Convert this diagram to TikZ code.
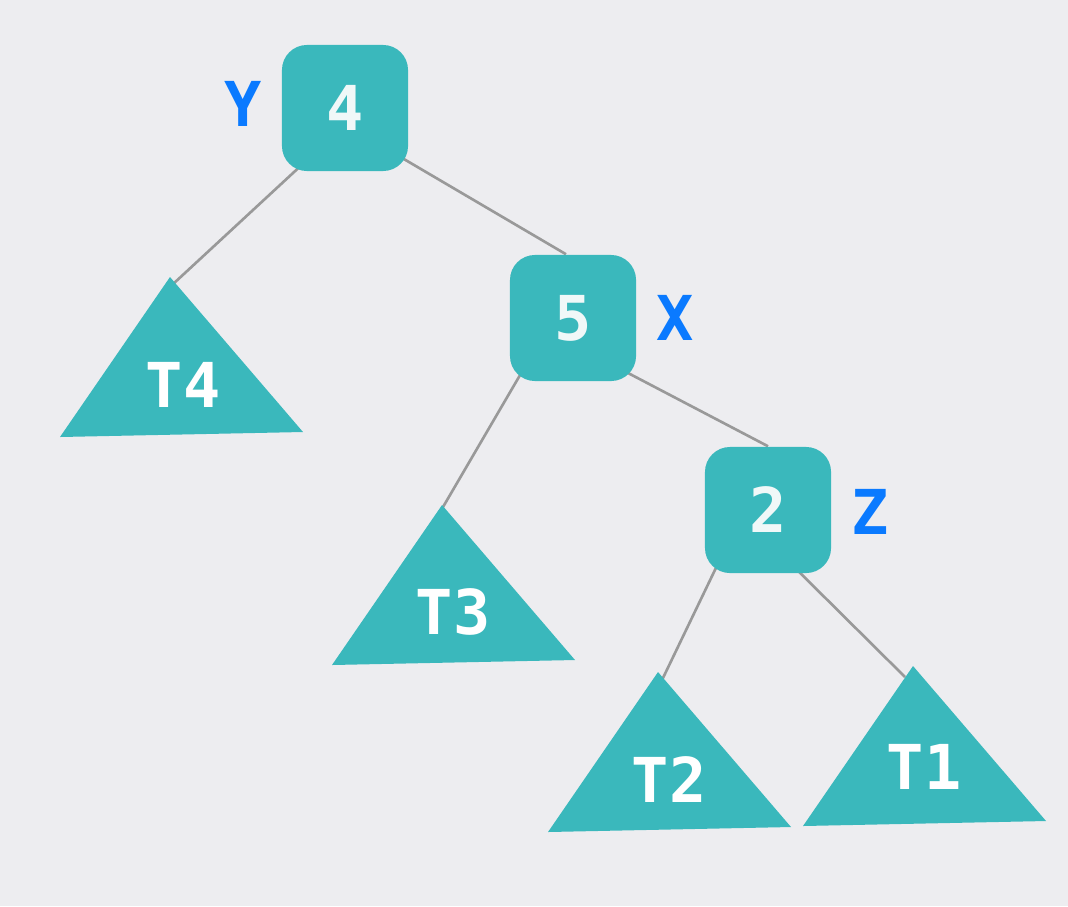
\documentclass[tikz,border=0pt]{standalone}
\usepackage{fontspec}
\newfontfamily\treefont{DejaVu Sans Mono}
\usetikzlibrary{backgrounds}
\definecolor{canvas}{HTML}{EDEDF0}
\definecolor{treeteal}{HTML}{3AB8BC}
\definecolor{keyblue}{HTML}{0A7AFF}
\definecolor{edgegray}{HTML}{999999}
\definecolor{keytext}{HTML}{F0F8F8}
\tikzset{
    keybox/.style={fill=treeteal, rounded corners=0.25cm, minimum size=1.26cm, inner sep=0pt,
        text=keytext, font=\treefont\bfseries\fontsize{17.6}{20}\selectfont},
    treelbl/.style={inner sep=0pt, text=white, font=\treefont\bfseries\fontsize{17.6}{20}\selectfont},
    sidelbl/.style={inner sep=0pt, text=keyblue, font=\treefont\bfseries\fontsize{17.6}{20}\selectfont},
    edge/.style={draw=edgegray, line width=0.75pt}
}
\begin{document}
\begin{tikzpicture}[x=0.01cm,y=-0.01cm]
    \useasboundingbox (0,0) rectangle (1068,906);
    %% keys
    \node[keybox] (n4) at (345,108) {4};
    \node[keybox] (n5) at (573,318) {5};
    \node[keybox] (n2) at (768,510) {2};
    \node[sidelbl] (lblY) at (243,104) {Y};
    \node[sidelbl] (lblX) at (675,318) {X};
    \node[sidelbl] (lblZ) at (870,512) {Z};
    %% subtrees
    \foreach \n/\x/\y/\lx/\ly in {4/170/277/183/385, 3/442/505/453/612,
                                  2/658/672/669/780, 1/913/666/924/767} {
        \coordinate (a\n) at (\x,\y);
        \fill[treeteal] (a\n) -- ++(-110,160) -- ++(243,-5) -- cycle;
        \node[treelbl] (t\n) at (\lx,\ly) {T\n};
    }
    \begin{pgfonlayer}{background}
        \fill[canvas] (0,0) rectangle (1068,906);
        %% edges
        \draw[edge] ([shift={(-25,40)}]n4.center) -- ([shift={(2,8)}]a4);
        \draw[edge] ([shift={(35,37)}]n4.center) -- ([shift={(-7,0)}]n5.north);
        \draw[edge] ([shift={(-43,40)}]n5.center) -- ([shift={(1,2)}]a3);
        \draw[edge] ([shift={(34,44)}]n5.center) -- (n2.north);
        \draw[edge] ([shift={(-42,37)}]n2.center) -- ([shift={(4,8)}]a2);
        \draw[edge] ([shift={(12,43)}]n2.center) -- ([shift={(-8,11)}]a1);
    \end{pgfonlayer}
\end{tikzpicture}
\end{document}
